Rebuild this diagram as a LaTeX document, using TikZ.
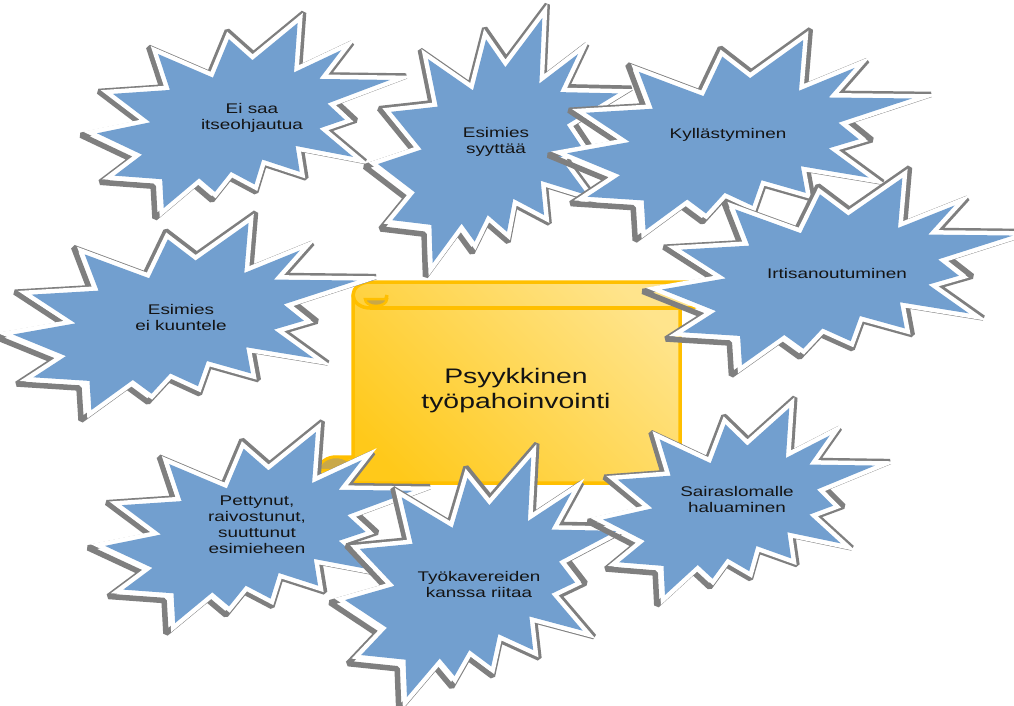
\documentclass[tikz,border=0pt]{standalone}
\usepackage{fontspec}
\newfontfamily\labelfont[FakeStretch=1.35]{Liberation Sans}

\definecolor{burstblue}{HTML}{729FCF}
\definecolor{shadowgray}{HTML}{7F7F7F}
\definecolor{inkdark}{HTML}{141414}
\definecolor{scrolllight}{HTML}{FFE48C}
\definecolor{scrolldeep}{HTML}{FFC91A}
\definecolor{scrollrim}{HTML}{FFBF00}
\definecolor{scrollshade}{HTML}{C9A848}

% Explosion outline in unit coordinates (x right, y down)
\newcommand\sealpath{(0.5307,0.2009) -- (0.4501,0.0874) -- (0.3957,0.2955) -- (0.2085,0.1679) -- (0.2488,0.3619) -- (0.0544,0.3829) -- (0.1821,0.5367) -- (0,0.5961) -- (0.1541,0.7117) -- (0.0594,0.8252) -- (0.2224,0.8444) -- (0.2277,1) -- (0.3484,0.8391) -- (0.4027,0.9126) -- (0.4570,0.8042) -- (0.5377,0.8724) -- (0.5638,0.7378) -- (0.6918,0.8042) -- (0.6778,0.6643) -- (0.8740,0.7237) -- (0.7584,0.5700) -- (0.8458,0.5228) -- (0.7864,0.4354) -- (1,0.3077) -- (0.7584,0.3025) -- (0.8336,0.1469) -- (0.6724,0.2675) -- (0.6847,0) -- cycle}

% name, left, top, width, height, text, text x, text y
\newcommand\burst[8]{%
  \begin{scope}[shift={(#2-0.055*#4,#3-0.055*#5)}, xscale=1.11*#4, yscale=1.11*#5]
    \draw[burstshadow] \sealpath;
  \end{scope}
  \begin{scope}[shift={(#2,#3)}, xscale=#4, yscale=#5]
    \draw[burstrim] \sealpath;
    \fill[burstfill] \sealpath;
  \end{scope}
  \node[bursttext] (#1) at (#7,#8) {#6};
}

\tikzset{
  burstshadow/.style={draw=shadowgray, line width=5.5pt, line join=bevel},
  burstrim/.style={draw=white, line width=9pt, line join=miter},
  burstfill/.style={fill=burstblue},
  bursttext/.style={align=center, inner sep=0pt, text=inkdark,
    font=\labelfont\fontsize{14pt}{16pt}\selectfont},
  scrollbody/.style={draw=scrollrim, line width=3.5pt, line join=round,
    top color=scrolllight, bottom color=scrolldeep, shading angle=-45},
  scrollline/.style={draw=scrollrim, line width=3.5pt},
  scrollcurl/.style={fill=scrollshade, draw=scrollrim, line width=2.5pt},
  scrolltext/.style={align=center, inner sep=0pt, text=inkdark,
    font=\labelfont\fontsize{21pt}{25pt}\selectfont}
}

\begin{document}
\begin{tikzpicture}[x=1pt, y=-1pt]
  \useasboundingbox (0,0) rectangle (1014,705);
  \fill[white] (0,0) rectangle (1014,705);

  % central scroll
  \path[scrollbody] (370,282) -- (688,282)
    arc[start angle=90, end angle=-90, x radius=17pt, y radius=13pt]
    -- (680,308) -- (680,483) -- (336,483)
    arc[start angle=270, end angle=90, x radius=17pt, y radius=13pt]
    -- (353,457) -- (353,295)
    arc[start angle=180, end angle=90, x radius=17pt, y radius=13pt] -- cycle;
  \draw[scrollline] (370,308) -- (680,308);
  \draw[scrollline] (353,295) arc[start angle=180, end angle=360, x radius=17pt, y radius=13pt];
  \path[scrollcurl] (365,299) arc[start angle=180, end angle=360, x radius=11pt, y radius=7pt] -- cycle;
  \path[scrollcurl] (319,470) arc[start angle=180, end angle=0, x radius=17pt, y radius=13pt] -- cycle;
  \draw[scrollline] (353,457) -- (353,470);
  \node[scrolltext] (title) at (516,391) {Psyykkinen\\työpahoinvointi};

  % explosions
  \burst{selfdirect}{97}{23}{293}{185}{Ei saa\\itseohjautua}{252}{118}
  \burst{blames}{378}{18}{240}{245}{Esimies\\syyttää}{496}{142}
  \burst{bored}{567}{40}{345}{190}{Kyllästyminen}{728}{135}
  \burst{notlisten}{13}{223}{344}{187}{Esimies\\ei kuuntele}{181}{317}
  \burst{resign}{662}{178}{351}{187}{Irtisanoutuminen}{837}{273}
  \burst{angry}{105}{432}{308}{191}{Pettynut,\\raivostunut,\\suuttunut\\esimieheen}{257}{525}
  \burst{quarrel}{345}{457}{272}{240}{Työkavereiden\\kanssa riitaa}{479}{584}
  \burst{sickleave}{603}{408}{272}{187}{Sairaslomalle\\haluaminen}{737}{499}
\end{tikzpicture}
\end{document}
